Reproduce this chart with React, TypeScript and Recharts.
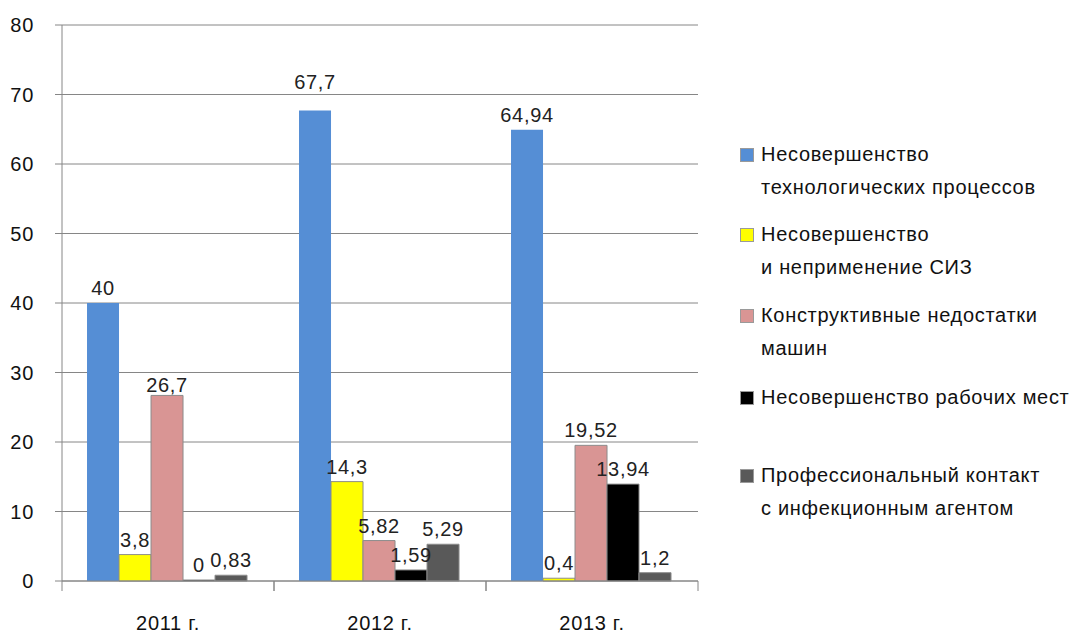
import React from "react";
import {
  BarChart,
  Bar,
  XAxis,
  YAxis,
  CartesianGrid,
  LabelList,
} from "recharts";

const years = ["2011 г.", "2012 г.", "2013 г."];

const techProcesses = [40, 67.7, 64.94];
const ppe = [3.8, 14.3, 0.4];
const machineFlaws = [26.7, 5.82, 19.52];
const workplaces = [0, 1.59, 13.94];
const infection = [0.83, 5.29, 1.2];

const yTicks = [0, 10, 20, 30, 40, 50, 60, 70, 80];

const series = [
  { key: "tech", values: techProcesses, color: "#558ED5", border: "none", lines: ["Несовершенство", "технологических процессов"] },
  { key: "ppe", values: ppe, color: "#FFFF00", border: "#8c8c8c", lines: ["Несовершенство", "и неприменение СИЗ"] },
  { key: "machine", values: machineFlaws, color: "#D99594", border: "#8c8c8c", lines: ["Конструктивные недостатки", "машин"] },
  { key: "work", values: workplaces, color: "#000000", border: "#8c8c8c", lines: ["Несовершенство рабочих мест"] },
  { key: "infect", values: infection, color: "#595959", border: "#8c8c8c", lines: ["Профессиональный контакт", "с инфекционным агентом"] },
];

const data = years.map((year, i) => {
  const row: Record<string, string | number> = { year };
  series.forEach((s) => (row[s.key] = s.values[i]));
  return row;
});

const FONT = "'Liberation Sans', Arial, sans-serif";
const FS = 20;
const SPACING = 0.7;
const AXIS = "#868686";

const fmt = (v: unknown) => String(v).replace(".", ",");

// baseline of the first text line for each legend entry
const legendBaselines = [161, 241, 322, 404, 482];
const LEGEND_LINE = 33;

function SideLegend() {
  return (
    <svg
      width={1070}
      height={633}
      style={{ position: "absolute", left: 0, top: 0, pointerEvents: "none" }}
    >
      {series.map((s, i) => {
        const b = legendBaselines[i];
        return (
          <g key={s.key}>
            <rect x={740.5} y={b - 12.5} width={13} height={13} fill={s.color} stroke="#9a9a9a" />
            {s.lines.map((l, j) => (
              <text
                key={j}
                x={761}
                y={b + j * LEGEND_LINE}
                fontFamily={FONT}
                fontSize={FS}
                letterSpacing={SPACING}
                fill="#111"
              >
                {l}
              </text>
            ))}
          </g>
        );
      })}
    </svg>
  );
}

// value above a bar; a gridline crossing the text pushes it off that line
// (up when it hits the lower part of the digits, down when it clips the top)
function ValueLabel(props: any) {
  const { x, y, width, height, value } = props;
  let baseline = y - 8;
  if (value > 0 && height > 0) {
    const perUnit = height / value;
    const next = yTicks.find((t) => t > value);
    if (next !== undefined) {
      const gy = y - (next - value) * perUnit;
      if (gy > baseline - 13 && gy < baseline) baseline = gy - 6;
      else if (gy >= baseline - 21 && gy <= baseline - 13) baseline = y - 3;
    }
  }
  return (
    <text
      x={x + width / 2}
      y={baseline}
      textAnchor="middle"
      fontFamily={FONT}
      fontSize={FS}
      letterSpacing={SPACING}
      fill="#222"
    >
      {fmt(value)}
    </text>
  );
}

// category label plus the small boundary marks on both sides of the band
function YearTick(props: any) {
  const { x, y, payload, width } = props;
  const half = width / years.length / 2;
  return (
    <g>
      <line x1={x - half} x2={x - half} y1={y} y2={y + 10} stroke={AXIS} />
      <line x1={x + half} x2={x + half} y1={y} y2={y + 10} stroke={AXIS} />
      <text
        x={x}
        y={y + 49}
        textAnchor="middle"
        fontFamily={FONT}
        fontSize={FS}
        letterSpacing={SPACING}
        fill="#111"
      >
        {payload.value}
      </text>
    </g>
  );
}

export default function App() {
  return (
    <div style={{ position: "absolute", left: 0, top: 0, width: 1070, height: 633, background: "#fff" }}>
      <BarChart
        width={1070}
        height={633}
        data={data}
        margin={{ top: 25, right: 372, bottom: 0, left: 0 }}
        barCategoryGap="11.8%"
        barGap={0}
        style={{ fontFamily: FONT }}
      >
        <CartesianGrid vertical={false} stroke={AXIS} strokeWidth={1} />
        <XAxis
          dataKey="year"
          height={52}
          tickSize={0}
          tickMargin={0}
          tickLine={false}
          axisLine={{ stroke: AXIS }}
          tick={<YearTick />}
          interval={0}
        />
        <YAxis
          yAxisId={0}
          domain={[0, 80]}
          ticks={yTicks}
          interval={0}
          width={62}
          tickSize={7}
          tickMargin={21}
          axisLine={{ stroke: AXIS }}
          tickLine={{ stroke: AXIS }}
          tick={{ fontSize: FS, fill: "#111", letterSpacing: SPACING }}
        />
        <YAxis
          yAxisId="edge"
          orientation="right"
          domain={[0, 80]}
          width={0}
          tick={false}
          tickLine={false}
          axisLine={{ stroke: "#333" }}
        />
        {series.map((s) => (
          <Bar
            key={s.key}
            dataKey={s.key}
            fill={s.color}
            stroke={s.border}
            strokeWidth={1}
            minPointSize={1}
            isAnimationActive={false}
          >
            <LabelList dataKey={s.key} content={<ValueLabel />} />
          </Bar>
        ))}
      </BarChart>
      <SideLegend />
    </div>
  );
}
